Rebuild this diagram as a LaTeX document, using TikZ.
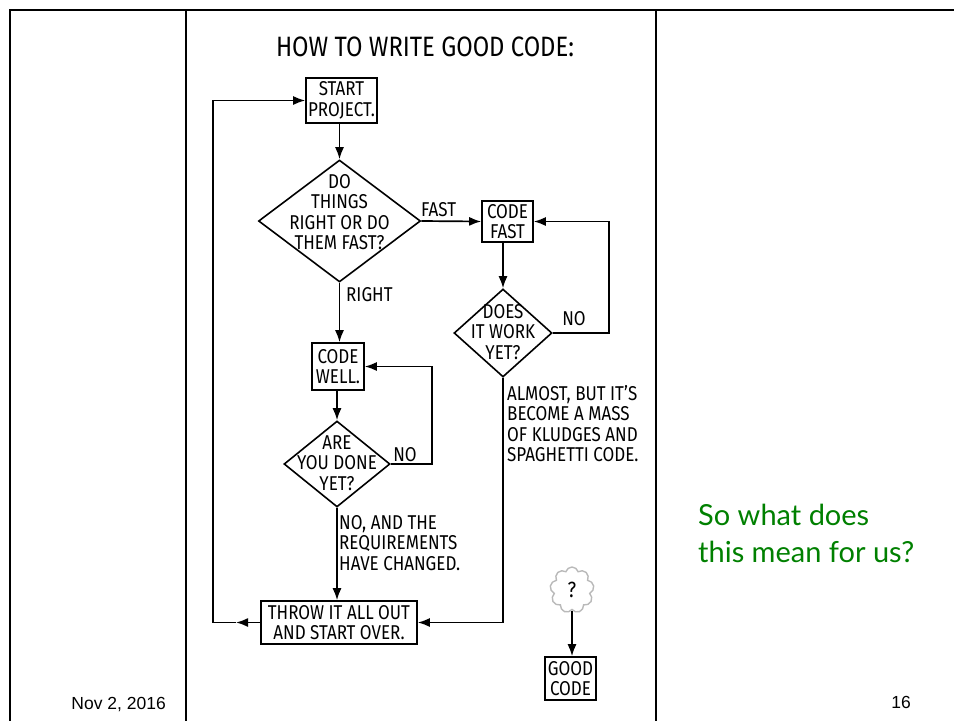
\documentclass[tikz,border=0pt]{standalone}
\usepackage{fontspec}
\setmainfont{Liberation Sans}
\newfontfamily\hand[FakeStretch=0.85]{Fira Sans}
\newfontfamily\gill{Lato}
\usetikzlibrary{shapes.geometric,shapes.symbols,arrows.meta}
\definecolor{slidegreen}{RGB}{0,128,0}
\newcommand\dtext[2][-7pt]{\smash{\makebox[0pt]{\raisebox{#1}{\begin{tabular}{@{}c@{}}#2\end{tabular}}}}}
\begin{document}
\begin{tikzpicture}[x=1pt,y=-1pt,
  flow/.style={line width=1.7pt},
  arr/.style={flow,-{Latex[length=12pt,width=9pt]}},
  box/.style={draw,line width=1.6pt,rectangle,inner sep=0pt,align=center,font=\hand\fontsize{20}{20.5}\selectfont},
  dia/.style={draw,line width=1.6pt,diamond,inner sep=0pt,font=\hand\fontsize{20}{20.5}\selectfont},
  lbl/.style={font=\hand\fontsize{20}{20.5}\selectfont,inner sep=0pt,align=left},
  frame/.style={line width=1.5pt}]
\useasboundingbox (0,0) rectangle (954,721);
% slide frame
\draw[line width=2.5pt] (9,10) -- (954,10);
\draw[frame] (10,10) -- (10,721);
\draw[frame] (186,10) -- (186,721);
\draw[frame] (656,10) -- (656,721);
% title
\node[font=\hand\fontsize{28}{30}\selectfont] (title) at (425,47) {HOW TO WRITE GOOD CODE:};
% nodes
\node[box,minimum width=71,minimum height=45] (start) at (341.5,100.5) {START\\PROJECT.};
\node[dia,minimum width=162,minimum height=122] (d1) at (339.5,221) {\dtext[1pt]{DO\\THINGS\\RIGHT OR DO\\THEM FAST?}};
\node[box,minimum width=51,minimum height=41] (cf) at (507.5,221.5) {CODE\\FAST};
\node[dia,minimum width=98,minimum height=88] (d2) at (503,333) {\dtext{DOES\\IT WORK\\YET?}};
\node[box,minimum width=52,minimum height=47] (cw) at (338,366.5) {CODE\\WELL.};
\node[dia,minimum width=106,minimum height=86] (d3) at (337,464) {\dtext{ARE\\YOU DONE\\YET?}};
\node[box,minimum width=156,minimum height=43] (throw) at (339,622.5) {THROW IT ALL OUT\\AND START OVER.};
\node[cloud,cloud puffs=9,aspect=1,draw=gray!55,line width=1.4pt,minimum width=44,minimum height=46,inner sep=0pt,font=\hand\fontsize{22}{22}\selectfont] (q) at (572,590) {?};
\node[box,minimum width=51,minimum height=43] (good) at (570.5,678.5) {GOOD\\CODE};
% connectors
\draw[arr] (start.south -| d1.north) -- (d1.north);
\draw[arr] (d1.east) -- (cf.west);
\draw[arr] (cf.south -| d2.north) -- (d2.north);
\coordinate (l1) at (609,221.5);
\draw[arr] (d2.east) -| (l1) -- (cf.east);
\draw[arr] (d1.south) -- (d1.south |- cw.north);
\draw[arr] (cw.south -| d3.north) -- (d3.north);
\coordinate (l2) at (432,366.5);
\draw[arr] (d3.east) -| (l2) -- (cw.east);
\draw[arr] (d3.south) -- (d3.south |- throw.north);
\draw[arr] (d2.south) |- (throw.east);
\coordinate (m1) at (236,622.5);
\coordinate (l3) at (213,622.5);
\draw[arr] (throw.west) -- (m1);
\draw[arr] (m1) -- (l3) |- (start.west);
\draw[arr] (q.south) -- (q.south |- good.north);
% labels
\node[lbl,anchor=west] (fast) at (421,210) {FAST};
\node[lbl,anchor=west] (right) at (346,295) {RIGHT};
\node[lbl] (no1) at (574,319) {NO};
\node[lbl] (no2) at (405,455) {NO};
\node[lbl,anchor=north west] (almost) at (507,385) {ALMOST, BUT IT’S\\BECOME A MASS\\OF KLUDGES AND\\SPAGHETTI CODE.};
\node[lbl,anchor=north west] (noand) at (339,515) {NO, AND THE\\REQUIREMENTS\\HAVE CHANGED.};
% slide text
\node[anchor=north west,align=left,inner sep=0pt,text=slidegreen,font=\gill\fontsize{29}{37}\selectfont] (ask) at (698,504) {So what does\\this mean for us?};
\node[anchor=base east,inner sep=0pt,font=\fontsize{17.5}{20}\selectfont] (date) at (166,709) {Nov 2, 2016};
\node[anchor=base east,inner sep=0pt,font=\fontsize{17.5}{20}\selectfont] (page) at (911,708) {16};
\end{tikzpicture}
\end{document}
